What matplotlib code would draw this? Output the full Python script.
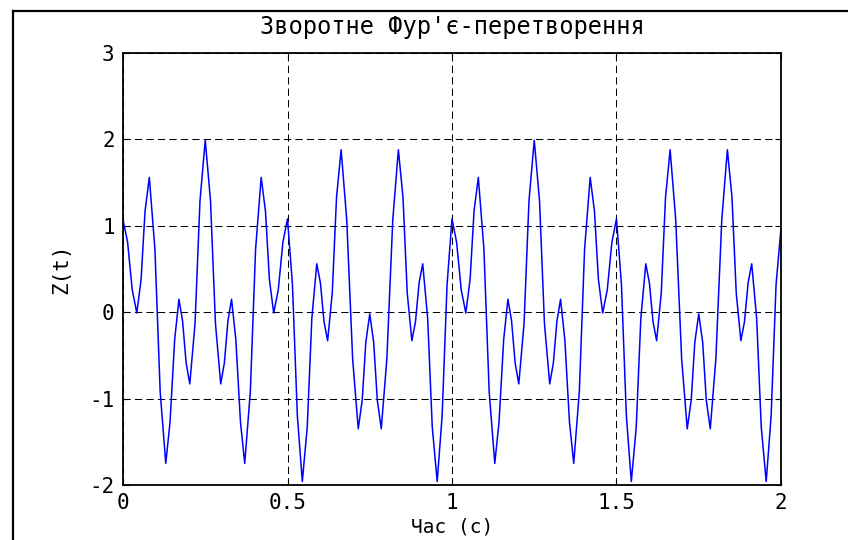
import matplotlib
matplotlib.use('Agg')
import matplotlib.pyplot as plt
from matplotlib.lines import Line2D

# Inverse Fourier transform result, sampled over two seconds
time_s = [
    0.000, 0.014, 0.028, 0.042, 0.055, 0.067, 0.080, 0.097, 0.113, 0.130,
    0.143, 0.157, 0.170, 0.181, 0.192, 0.203, 0.219, 0.234, 0.250, 0.266,
    0.281, 0.297, 0.308, 0.319, 0.330, 0.343, 0.357, 0.370, 0.387, 0.403,
    0.420, 0.433, 0.445, 0.458, 0.472, 0.486, 0.500, 0.515, 0.530, 0.545,
    0.560, 0.574, 0.589, 0.600, 0.611, 0.622, 0.636, 0.649, 0.663, 0.680,
    0.698, 0.715, 0.727, 0.738, 0.750, 0.762, 0.773, 0.785, 0.802, 0.820,
    0.837, 0.851, 0.864, 0.878, 0.889, 0.900, 0.911, 0.926, 0.940, 0.955,
    0.970, 0.985,
    1.000, 1.014, 1.028, 1.042, 1.055, 1.067, 1.080, 1.097, 1.113, 1.130,
    1.143, 1.157, 1.170, 1.181, 1.192, 1.203, 1.219, 1.234, 1.250, 1.266,
    1.281, 1.297, 1.308, 1.319, 1.330, 1.343, 1.357, 1.370, 1.387, 1.403,
    1.420, 1.433, 1.445, 1.458, 1.472, 1.486, 1.500, 1.515, 1.530, 1.545,
    1.560, 1.574, 1.589, 1.600, 1.611, 1.622, 1.636, 1.649, 1.663, 1.680,
    1.698, 1.715, 1.727, 1.738, 1.750, 1.762, 1.773, 1.785, 1.802, 1.820,
    1.837, 1.851, 1.864, 1.878, 1.889, 1.900, 1.911, 1.926, 1.940, 1.955,
    1.970, 1.985, 2.000,
]
z_vals = [
    1.07, 0.81, 0.26, -0.01, 0.38, 1.17, 1.56, 0.73, -0.92, -1.75,
    -1.27, -0.32, 0.15, -0.10, -0.59, -0.83, -0.13, 1.29, 1.99, 1.29,
    -0.13, -0.83, -0.59, -0.10, 0.15, -0.32, -1.27, -1.75, -0.92, 0.73,
    1.56, 1.17, 0.38, -0.01, 0.26, 0.81, 1.08, 0.32, -1.20, -1.96,
    -1.33, -0.07, 0.56, 0.34, -0.11, -0.33, 0.22, 1.33, 1.88, 1.07,
    -0.54, -1.35, -1.02, -0.35, -0.02, -0.35, -1.02, -1.35, -0.54, 1.07,
    1.88, 1.33, 0.22, -0.33, -0.11, 0.34, 0.56, -0.07, -1.33, -1.96,
    -1.20, 0.32,
    1.08, 0.81, 0.26, -0.01, 0.38, 1.17, 1.56, 0.73, -0.92, -1.75,
    -1.27, -0.32, 0.15, -0.10, -0.59, -0.83, -0.13, 1.29, 1.99, 1.29,
    -0.13, -0.83, -0.59, -0.10, 0.15, -0.32, -1.27, -1.75, -0.92, 0.73,
    1.56, 1.17, 0.38, -0.01, 0.26, 0.81, 1.08, 0.32, -1.20, -1.96,
    -1.33, -0.07, 0.56, 0.34, -0.11, -0.33, 0.22, 1.33, 1.88, 1.07,
    -0.54, -1.35, -1.02, -0.35, -0.02, -0.35, -1.02, -1.35, -0.54, 1.07,
    1.88, 1.33, 0.22, -0.33, -0.11, 0.34, 0.56, -0.07, -1.33, -1.96,
    -1.20, 0.32, 0.97,
]

x_ticks = [0, 0.5, 1, 1.5, 2]
x_tick_labels = ['0', '0.5', '1', '1.5', '2']
y_ticks = [-2, -1, 0, 1, 2, 3]
y_tick_labels = ['-2', '-1', '0', '1', '2', '3']

plt.rcParams['font.family'] = ['DejaVu Sans Mono', 'DejaVu Sans']

W, H = 848, 540
fig = plt.figure(figsize=(W / 100, H / 100), dpi=100)
ax = fig.add_axes([123 / W, 55 / H, 658 / W, 432 / H])

ax.plot(time_s, z_vals, color='#0000ff', linewidth=1.1)

ax.set_xlim(0, 2)
ax.set_ylim(-2, 3)
ax.set_xticks(x_ticks, x_tick_labels)
ax.set_yticks(y_ticks, y_tick_labels)
ax.tick_params(direction='in', length=4, width=0.8, top=True, right=True,
               labelsize=15, pad=6)
ax.grid(True, color='black', linestyle=(0, (7, 4)), linewidth=0.75)
for spine in ax.spines.values():
    spine.set_linewidth(1.3)

ax.set_title("Зворотне Фур'є-перетворення", fontsize=17, pad=14)
ax.set_xlabel('Час (с)', fontsize=14, va='center')
ax.xaxis.set_label_coords(0.5, -0.098)
ax.set_ylabel('Z(t)', fontsize=15, va='center')
ax.yaxis.set_label_coords(-0.093, 0.5)

# frame around the figure window (left and top edges)
fx, fy = 13 / W, 1 - 10.5 / H
fig.add_artist(Line2D([fx, fx], [0, fy], transform=fig.transFigure,
                      color='black', linewidth=1.6))
fig.add_artist(Line2D([fx, 1], [fy, fy], transform=fig.transFigure,
                      color='black', linewidth=1.6))

fig.savefig('out.png', dpi=100, facecolor='white')
